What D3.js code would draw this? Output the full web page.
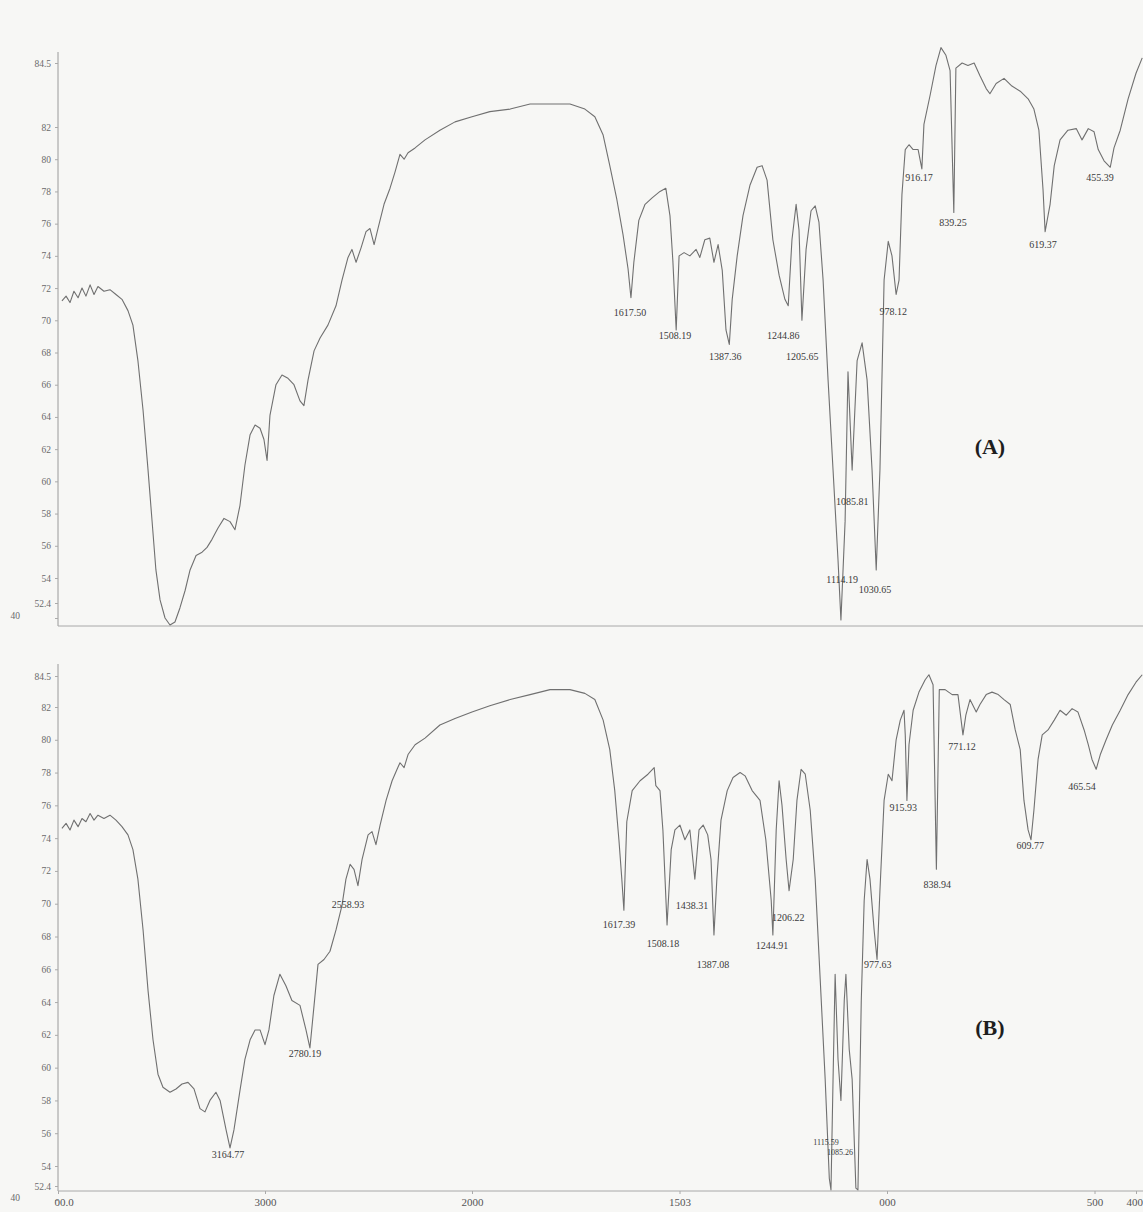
<!DOCTYPE html>
<html>
<head>
    <meta charset="utf-8">
    <title>IR spectra A / B</title>
    <script src="https://d3js.org/d3.v7.min.js"></script>
    <style>
        body { margin: 0; background: #f7f7f5; }
        svg { display: block; }
    </style>
</head>
<body>
<svg width="1143" height="1212"></svg>
<script>
// wavenumber (cm-1), %T
const specA = [
    [3981,71.2],[3961,71.5],[3942,71.1],[3923,71.8],[3903,71.4],[3884,72.0],[3865,71.5],[3845,72.2],[3826,71.6],[3807,72.1],
    [3778,71.8],[3749,71.9],[3720,71.6],[3691,71.3],[3662,70.6],[3638,69.7],[3614,67.5],[3589,64.4],[3565,60.7],[3546,57.6],
    [3527,54.5],[3507,52.6],[3483,40.0],[3459,34.2],[3435,36.7],[3411,48.3],[3386,53.2],[3362,54.5],[3333,55.4],[3304,55.6],
    [3280,55.9],[3256,56.4],[3227,57.1],[3198,57.7],[3169,57.5],[3145,57.0],[3121,58.5],[3097,61.0],[3072,62.9],[3048,63.5],
    [3024,63.3],[3005,62.6],[2990,61.3],[2976,64.1],[2947,66.0],[2918,66.6],[2889,66.4],[2860,66.0],[2831,65.0],[2812,64.7],
    [2792,66.3],[2763,68.1],[2734,68.9],[2696,69.7],[2657,70.9],[2628,72.5],[2599,73.9],[2580,74.4],[2560,73.6],[2536,74.5],
    [2512,75.5],[2493,75.7],[2473,74.7],[2454,75.7],[2425,77.2],[2396,78.2],[2372,79.2],[2348,80.3],[2328,80.0],[2309,80.4],
    [2275,80.7],[2227,81.2],[2155,81.8],[2082,82.2],[2000,82.4],[1957,82.6],[1908,82.7],[1860,82.9],[1812,82.9],[1764,82.9],
    [1728,82.7],[1704,82.4],[1684,81.5],[1668,79.6],[1651,77.5],[1636,75.3],[1624,73.2],[1617,71.4],[1610,73.6],[1598,76.2],
    [1583,77.2],[1566,77.6],[1547,78.0],[1533,78.2],[1523,76.5],[1516,73.7],[1508,69.4],[1501,74.0],[1489,74.2],[1475,74.0],
    [1460,74.4],[1451,73.9],[1439,75.0],[1427,75.1],[1417,73.6],[1407,74.7],[1397,73.1],[1388,69.4],[1380,68.5],[1373,71.3],
    [1361,74.0],[1347,76.5],[1330,78.4],[1313,79.5],[1301,79.6],[1289,78.7],[1275,75.0],[1260,72.8],[1246,71.3],[1238,70.9],
    [1229,75.0],[1219,77.2],[1212,75.6],[1205,70.0],[1195,74.4],[1183,76.8],[1173,77.1],[1164,76.1],[1154,72.5],[1142,66.3],
    [1130,60.7],[1118,55.1],[1111,38.3],[1101,57.5],[1094,66.8],[1084,60.7],[1072,67.5],[1060,68.6],[1048,66.3],[1036,60.7],
    [1026,54.5],[1017,60.7],[1007,72.5],[997,74.9],[988,74.0],[978,71.6],[971,72.5],[964,77.8],[956,80.6],[947,80.9],
    [937,80.6],[925,80.6],[916,79.4],[911,82.1],[896,83.25],[882,84.4],[870,85.1],[858,84.8],[848,84.2],[839,76.7],
    [834,84.3],[819,84.5],[805,84.4],[790,84.5],[776,84.0],[761,83.5],[752,83.3],[737,83.7],[718,83.9],[699,83.6],
    [679,83.4],[660,83.1],[646,82.7],[634,81.8],[624,78.1],[619,75.5],[612,76.5],[607,77.2],[597,79.6],[583,81.2],
    [564,81.8],[544,81.9],[530,81.2],[515,81.9],[501,81.7],[491,80.6],[477,79.9],[462,79.5],[453,80.7],[438,81.8],
    [419,83.1],[400,84.1],[385,84.7]
]

const specB = [
    [3981,74.6],[3961,74.9],[3942,74.5],[3923,75.1],[3903,74.7],[3884,75.2],[3865,75.0],[3845,75.5],[3826,75.1],[3807,75.4],
    [3778,75.2],[3749,75.4],[3720,75.1],[3691,74.7],[3662,74.2],[3638,73.3],[3614,71.5],[3589,68.4],[3565,64.7],[3541,61.7],
    [3517,59.6],[3493,58.8],[3459,58.5],[3430,58.7],[3401,59.0],[3372,59.1],[3343,58.7],[3314,57.5],[3290,57.3],[3266,58.0],
    [3237,58.5],[3217,58.0],[3188,56.2],[3169,55.1],[3150,56.2],[3121,58.6],[3097,60.5],[3072,61.7],[3048,62.3],[3024,62.3],
    [3000,61.4],[2981,62.3],[2957,64.4],[2928,65.7],[2899,65.0],[2870,64.1],[2831,63.8],[2802,62.3],[2783,61.2],[2763,63.8],
    [2744,66.3],[2715,66.6],[2686,67.1],[2657,68.4],[2628,69.9],[2609,71.5],[2589,72.4],[2570,72.1],[2551,71.1],[2531,72.7],
    [2502,74.2],[2483,74.4],[2464,73.6],[2444,74.8],[2415,76.3],[2386,77.5],[2362,78.2],[2348,78.6],[2328,78.3],[2309,79.1],
    [2275,79.7],[2227,80.1],[2155,80.9],[2082,81.3],[2000,81.7],[1957,82.1],[1908,82.6],[1860,83.0],[1812,83.4],[1764,83.4],
    [1728,83.1],[1704,82.6],[1684,81.2],[1668,79.4],[1656,76.9],[1646,73.9],[1639,71.5],[1634,69.6],[1627,75.0],[1614,76.9],
    [1595,77.5],[1576,77.9],[1561,78.3],[1557,77.2],[1547,76.9],[1540,74.5],[1530,68.7],[1520,73.3],[1511,74.5],[1499,74.8],
    [1487,73.9],[1475,74.5],[1463,71.5],[1453,74.5],[1443,74.8],[1432,74.2],[1424,72.7],[1417,68.1],[1410,71.5],[1400,75.1],
    [1385,76.9],[1371,77.7],[1354,78.0],[1342,77.8],[1325,76.9],[1306,76.3],[1292,73.9],[1279,70.2],[1275,68.1],[1267,74.5],
    [1260,77.5],[1253,76.0],[1243,72.7],[1236,70.8],[1226,72.7],[1217,76.3],[1207,78.2],[1197,77.9],[1185,75.7],[1173,71.5],
    [1161,65.4],[1149,59.3],[1139,53.0],[1135,48.9],[1130,59.3],[1125,65.7],[1118,60.5],[1111,58.0],[1103,64.1],[1099,65.7],
    [1091,61.1],[1084,59.3],[1075,50.6],[1070,48.9],[1062,64.1],[1055,70.2],[1048,72.7],[1041,71.5],[1031,68.4],[1024,66.6],
    [1017,70.8],[1007,76.3],[997,77.9],[988,77.5],[978,80.0],[968,81.2],[959,81.8],[956,80.3],[952,76.3],[947,79.7],
    [937,81.8],[923,83.2],[908,84.2],[899,84.6],[889,83.8],[881,72.1],[874,83.4],[860,83.4],[843,83.0],[829,83.0],
    [817,80.3],[810,81.5],[800,82.6],[785,81.7],[776,82.2],[761,83.0],[747,83.2],[732,83.0],[718,82.6],[703,82.2],
    [691,80.6],[679,79.4],[670,76.3],[660,74.5],[653,73.9],[646,75.7],[636,78.8],[626,80.3],[612,80.6],[597,81.2],
    [583,81.8],[568,81.5],[554,81.9],[540,81.7],[525,80.6],[515,79.7],[506,78.8],[496,78.2],[486,79.1],[472,80.0],
    [457,80.9],[438,81.8],[419,83.0],[400,84.0],[385,84.6]
]

// peak labels: text, wavenumber, %T where the text sits
const peaksA = [
    ["1617.50",1619,70.4],["1508.19",1511,69.0],["1387.36",1390,67.65],["1244.86",1250,69.0],["1205.65",1204,67.65],
    ["978.12",985,70.45],["916.17",923,78.8],["839.25",841,76.0],["619.37",624,74.6],["455.39",487,78.8],
    ["1085.81",1084,58.7],["1114.19",1108,53.8],["1030.65",1029,53.2]
]
const peaksB = [
    ["1617.39",1646,68.65],["1508.18",1540,67.5],["1438.31",1470,69.8],["1387.08",1419,66.2],["1244.91",1277,67.4],
    ["1206.22",1238,69.1],["977.63",1022,66.2],["915.93",961,75.8],["838.94",879,71.1],["771.12",819,79.5],
    ["609.77",655,73.5],["465.54",530,77.1],["2558.93",2599,69.9],["2780.19",2807,60.8],["3164.77",3179,54.6],
    ["1115.59",1147,55.4],["1085.26",1113,54.8]
]

const yTicks = [84.5, 82, 80, 78, 76, 74, 72, 70, 68, 66, 64, 62, 60, 58, 56, 54, 52.4, 40]
const xTicks = [4000, 3000, 2000, 1500, 1000, 500, 400]
const xTickLabels = ["00.0", "3000", "2000", "1503", "000", "500", "400"]

const svg = d3.select("svg")
const width = +svg.attr("width")
const left = 58

svg.append("rect").attr("width", width).attr("height", 1212).attr("fill", "#f7f7f5")

// x: the instrument halves the scale below 2000 cm-1
const x = d3.scaleLinear().domain([4000, 2000, 400]).range([left, 472, 1136])
// y: the printed ticks are not evenly spaced at both ends
const yA = d3.scaleLinear().domain([40, 52.4, 54, 82, 84.5]).range([618, 603, 578, 127, 63])
const yB = d3.scaleLinear().domain([40, 52.4, 54, 82, 84.5]).range([1200, 1186, 1166, 707, 676])

const panels = [
    { spec: specA, peaks: peaksA, y: yA, top: 52, base: 626, tag: "(A)", tagAt: [752, 62.0], small: [] },
    { spec: specB, peaks: peaksB, y: yB, top: 664, base: 1191, tag: "(B)", tagAt: [752, 62.3], small: ["1115.59", "1085.26"] }
]

panels.forEach(p => {
    const g = svg.append("g")

    // frame lines
    g.append("line").attr("x1", left).attr("x2", left).attr("y1", p.top).attr("y2", p.base)
        .attr("stroke", "#9a9a9a").attr("stroke-width", 1)
    g.append("line").attr("x1", left).attr("x2", width).attr("y1", p.base).attr("y2", p.base)
        .attr("stroke", "#a8a8a8").attr("stroke-width", 1)

    const yAxis = d3.axisLeft(p.y).tickValues(yTicks).tickSize(3).tickPadding(4)
        .tickFormat(d => d === 40 ? "40" : d)
    const ax = g.append("g").attr("transform", `translate(${left},0)`).call(yAxis)
    ax.select(".domain").remove()
    ax.selectAll("line").attr("stroke", "#aaa")
    ax.selectAll("text").attr("fill", "#6a6a6a").style("font-family", "'Liberation Serif', serif")
        .style("font-size", "9.5px")
    ax.selectAll(".tick").filter(d => d === 40).select("text").attr("x", -38).attr("dy", "0.1em")

    const line = d3.line().x(d => x(d[0])).y(d => p.y(d[1]))
    g.append("path").datum(p.spec).attr("d", line)
        .attr("fill", "none").attr("stroke", "#707070").attr("stroke-width", 1.1)
        .attr("stroke-linejoin", "round")

    g.selectAll("text.peak").data(p.peaks).enter().append("text")
        .attr("class", "peak")
        .attr("x", d => x(d[1])).attr("y", d => p.y(d[2]))
        .attr("text-anchor", "middle").attr("dominant-baseline", "middle")
        .style("font-family", "'Liberation Serif', serif")
        .style("font-size", d => p.small.includes(d[0]) ? "8px" : "10px")
        .style("fill", "#3a3a3a")
        .text(d => d[0])

    g.append("text")
        .attr("x", x(p.tagAt[0])).attr("y", p.y(p.tagAt[1]))
        .attr("text-anchor", "middle").attr("dominant-baseline", "middle")
        .style("font-family", "'Liberation Serif', serif").style("font-weight", "bold")
        .style("font-size", "22px").attr("fill", "#1e1e1e")
        .text(p.tag)
})

// shared wavenumber axis under panel B
const xAxis = d3.axisBottom(x).tickValues(xTicks).tickSize(3).tickPadding(4)
    .tickFormat((d, i) => xTickLabels[i])
const xa = svg.append("g").attr("transform", "translate(0,1191)").call(xAxis)
xa.select(".domain").remove()
xa.selectAll("line").attr("stroke", "#aaa")
xa.selectAll("text").attr("fill", "#555").style("font-family", "'Liberation Serif', serif")
    .style("font-size", "11px")
xa.selectAll(".tick").filter(d => d === 4000).select("text").attr("dx", "0.5em")
// last label sits against the right edge
xa.selectAll(".tick").filter(d => d === 400).select("text").attr("text-anchor", "end").attr("dx", "0.6em")
</script>
</body>
</html>
